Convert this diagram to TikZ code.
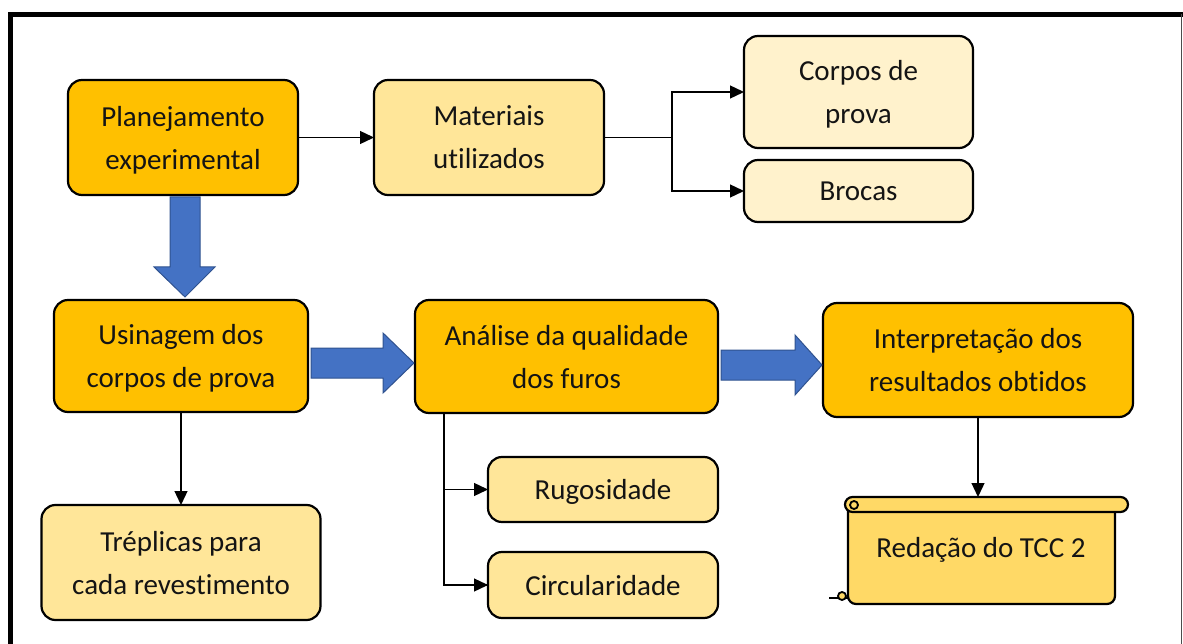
\documentclass[tikz,border=0pt]{standalone}
\usepackage{fontspec}
\setmainfont[Ligatures=NoCommon]{Carlito}
\definecolor{gold}{HTML}{FFC000}
\definecolor{sand}{HTML}{FFE699}
\definecolor{cream}{HTML}{FFF2CC}
\definecolor{scrollfill}{HTML}{FFD966}
\definecolor{arrowblue}{HTML}{4472C4}
\definecolor{arrowedge}{HTML}{2F528F}
\usetikzlibrary{positioning,calc,arrows.meta}

\begin{document}
\begin{tikzpicture}[x=1pt, y=-1pt,
            box/.style={
                rectangle, rounded corners=14pt,
                draw=black, line width=2.2pt,
                align=center, inner sep=0pt, outer sep=0pt,
                font=\fontsize{29}{43}\selectfont, text=black!92,
                text depth=0pt
            },
            stagebox/.style={box, fill=gold},
            itembox/.style={box, fill=sand},
            subbox/.style={box, fill=cream},
            link/.style={-{Triangle[length=14pt,width=13pt]}, line width=1.3pt},
            bigarrow/.style={fill=arrowblue, draw=arrowedge, line width=1pt},
            scrollbox/.style={fill=scrollfill, draw=black, line width=2.2pt},
        ]

            \useasboundingbox (0,0) rectangle (1183,644);
            \draw[line width=5pt] (10.5,644) -- (10.5,14.5) -- (1183,14.5);
            \draw[line width=1.2pt, black!70] (1181.5,14.5) -- (1181.5,644);

            \node [stagebox, minimum width=230pt, minimum height=115pt] (plan) at (183,137.5) {Planejamento\\experimental};
            \node [itembox, minimum width=230pt, minimum height=115pt] (mat) [ right= 76pt of plan ] {Materiais\\utilizados};
            \draw[link] (plan) -- (mat);

            \node [subbox, minimum width=229pt, minimum height=112pt] (corpos) at (858.5,92) {Corpos de\\prova};
            \node [subbox, minimum width=229pt, minimum height=62pt] (brocas) [ below= 12pt of corpos ] {Brocas};
            \coordinate (matsplit) at ($(mat.east)+(68,0)$);
            \draw[line width=1.3pt] (mat.east) -- (matsplit);
            \draw[link] (matsplit) |- (corpos.west);
            \draw[link] (matsplit) |- (brocas.west);

            \node [stagebox, minimum width=254pt, minimum height=112pt] (usin) at (181,356) {Usinagem dos\\corpos de prova};
            \node [stagebox, minimum width=303pt, minimum height=113pt] (anal) at (566.5,356.5) {Análise da qualidade\\dos furos};
            \node [stagebox, minimum width=310pt, minimum height=114pt] (interp) at (978,360) {Interpretação dos\\resultados obtidos};

            % blue block arrows
            \draw[bigarrow, shift={(plan.south)}] (-13,2) -- (-13,72) -- (-29,72) -- (2,102) -- (32,72) -- (17,72) -- (17,2) -- cycle;
            \draw[bigarrow, shift={(usin.east)}] (3,-8) -- (75,-8) -- (75,-23) -- (106,7) -- (75,37) -- (75,22) -- (3,22) -- cycle;
            \draw[bigarrow, shift={(anal.east)}] (3,-6.5) -- (77,-6.5) -- (77,-21.5) -- (104,8.5) -- (77,38.5) -- (77,23.5) -- (3,23.5) -- cycle;

            \node [itembox, minimum width=279pt, minimum height=115pt] (trep) [ below= 93pt of usin ] {Tréplicas para\\cada revestimento};
            \draw[link] (usin.south) -- (usin.south |- trep.north);

            \node [itembox, minimum width=230pt, minimum height=65pt] (rugo) at (603,489.5) {Rugosidade};
            \node [itembox, minimum width=230pt, minimum height=66pt] (circ) [ below= 30pt of rugo ] {Circularidade};
            \coordinate (ansplit) at ($(anal.south west)+(29,0)$);
            \draw[line width=1.3pt] (ansplit) |- (circ.west);
            \draw[link] (ansplit) |- (rugo.west);
            \draw[link] (ansplit) |- (circ.west);

            % scroll
            \filldraw[scrollbox, rounded corners=8pt] (848,500) rectangle (1115,604);
            \filldraw[scrollbox, rounded corners=7.5pt] (845,497) rectangle (1128,512);
            \filldraw[scrollbox, line width=1.8pt] (854,505) circle[radius=4];
            \draw[line width=2pt] (829,598) -- (848,598);
            \filldraw[scrollbox, line width=1.8pt] (842,596) circle[radius=4];
            \node [box, draw=none, minimum width=267pt, minimum height=92pt] (redac) at (981,547) {Redação do TCC 2};
            \coordinate (redtop) at (983,497);
            \draw[link] (interp.south) -- (interp.south |- redtop);

        \end{tikzpicture}
\end{document}
